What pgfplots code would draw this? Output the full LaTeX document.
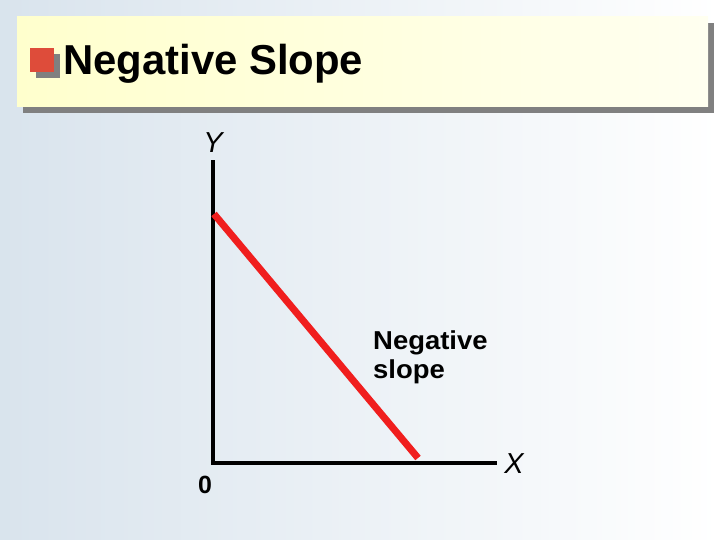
\documentclass[border=0pt]{standalone}
\usepackage{fontspec}
\setmainfont{Liberation Sans}
\usepackage{pgfplots}
\pgfplotsset{compat=1.18}
\definecolor{bgL}{RGB}{198,214,228}
\definecolor{boxL}{RGB}{255,255,205}
\definecolor{boxR}{RGB}{255,255,240}
\definecolor{bullet}{RGB}{222,76,58}
\definecolor{shadowgray}{RGB}{128,128,128}
\definecolor{lred}{RGB}{240,30,30}
\pgfdeclarehorizontalshading{bgshade}{100bp}{color(0bp)=(bgL); color(75bp)=(white); color(100bp)=(white)}
\begin{document}
\begin{tikzpicture}[x=1bp,y=1bp]
\path[use as bounding box] (0,0) rectangle (720,540);
\shade[shading=bgshade] (0,0) rectangle (720,540);
% title box
\fill[shadowgray] (23,427) rectangle (714,517);
\shade[left color=boxL,right color=boxR] (17,433) rectangle (708,523);
\fill[shadowgray] (36,462) rectangle (60,486);
\fill[bullet] (30,468) rectangle (54,492);
\node[anchor=base west, inner sep=0pt, font=\fontsize{42}{42}\selectfont\bfseries] at (63,465) {Negative Slope};
\begin{axis}[at={(213bp,77bp)}, anchor=south west, scale only axis,
  width=282bp, height=301bp, xmin=0, xmax=282, ymin=0, ymax=301,
  axis lines=left, axis line style={-, line width=4bp, black, line cap=rect},
  ticks=none, clip=false]
\addplot[lred, line width=7bp] coordinates {(1,249) (205,5)};
\node[font=\itshape\fontsize{29}{29}\selectfont] at (axis cs:0,320) {Y};
\node[font=\itshape\fontsize{29}{29}\selectfont] at (axis cs:301,-1) {X};
\node[font=\bfseries\fontsize{25}{25}\selectfont] at (axis cs:-8,-22) {0};
\node[anchor=base west, inner sep=0pt, font=\bfseries\fontsize{26}{29}\selectfont] at (axis cs:160,113) {\scalebox{1.06}[1]{\begin{tabular}[t]{@{}l@{}}Negative\\slope\end{tabular}}};
\end{axis}
\end{tikzpicture}
\end{document}
